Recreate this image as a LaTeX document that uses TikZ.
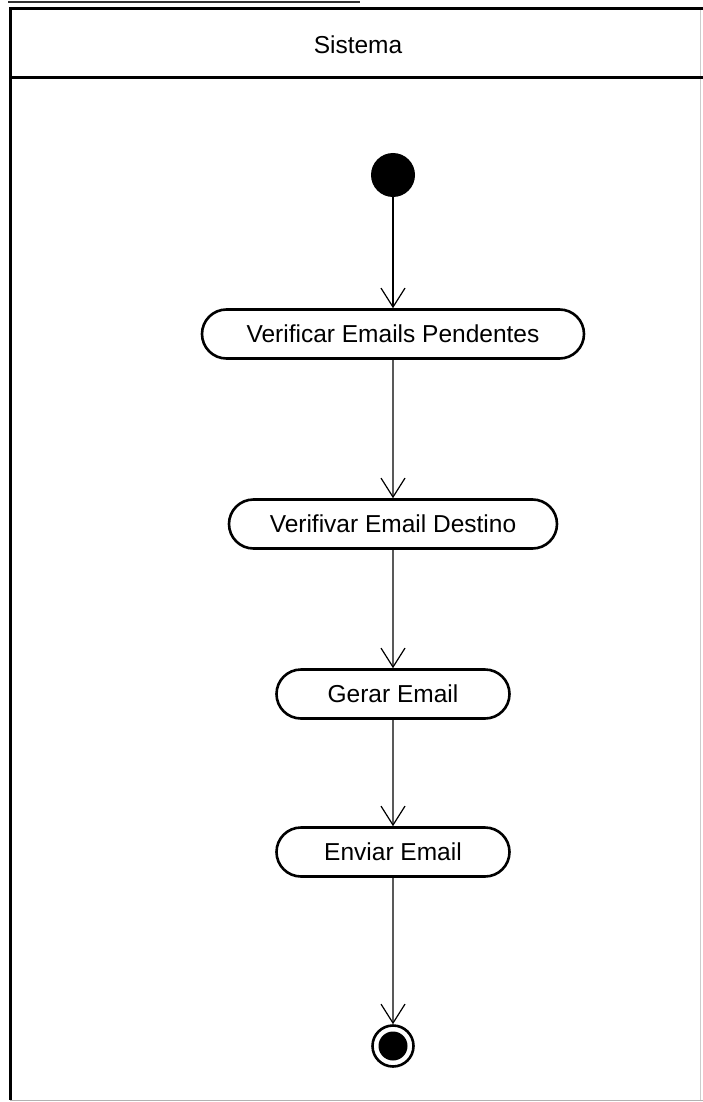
\documentclass[tikz,border=0pt]{standalone}
\usepackage{fontspec}
\setmainfont{Liberation Sans}
\usetikzlibrary{arrows.meta,shapes.misc}
\begin{document}
\begin{tikzpicture}
[x=1pt,y=-1pt,font=\fontsize{24.5}{28}\selectfont,
acao/.style={rounded rectangle,draw=black,line width=2.6pt,fill=white,minimum height=49pt,inner sep=0pt},
fluxo/.style={-{Straight Barb[length=19pt,width=24pt,line width=1.2pt]},line width=1.2pt}]
\useasboundingbox (0,0) rectangle (703,1102);
% moldura da raia
\draw[line width=1.5pt,black!80] (8,2) -- (360,2);
\draw[line width=1pt,gray!60] (10,1100) -- (703,1100);
\draw[line width=1pt,gray!40] (700,8) -- (700,1100);
\draw[line width=3pt] (706,9) -- (10,9) -- (10,1100);
\draw[line width=3pt] (10,78) -- (706,78);
\node (raia) at (358,45) {Sistema};
% estados
\node[circle,fill=black,minimum size=44pt,inner sep=0pt] (ini) at (393,175) {};
\node[acao,minimum width=382pt] (a1) at (393,334) {Verificar Emails Pendentes};
\node[acao,minimum width=328pt] (a2) at (393,524) {Verifivar Email Destino};
\node[acao,minimum width=233pt] (a3) at (393,694) {Gerar Email};
\node[acao,minimum width=233pt] (a4) at (393,852) {Enviar Email};
\node[circle,draw=black,line width=2.6pt,fill=white,minimum size=41pt,inner sep=0pt] (fim) at (393,1046) {};
\node[circle,fill=black,minimum size=29pt,inner sep=0pt] (fimb) at (fim) {};
\draw[fluxo] (ini) to (a1);
\draw[fluxo] (a1) to (a2);
\draw[fluxo] (a2) to (a3);
\draw[fluxo] (a3) to (a4);
\draw[fluxo] (a4) to (fim);
\end{tikzpicture}
\end{document}
